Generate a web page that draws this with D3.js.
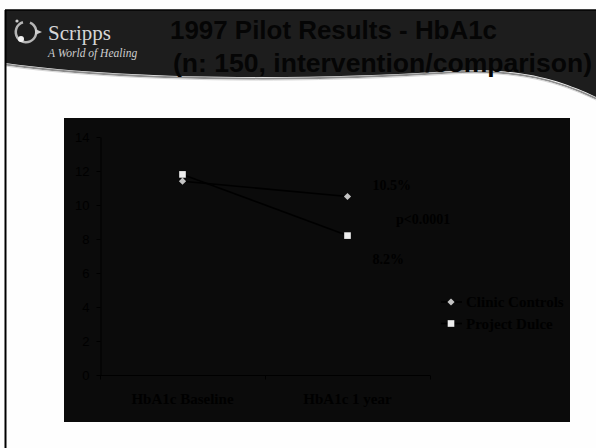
<!DOCTYPE html>
<html>
<head>
<meta charset="utf-8">
<script src="https://cdn.jsdelivr.net/npm/d3@7"></script>
<style>
  html, body { margin: 0; padding: 0; background: #ffffff; }
  svg { display: block; }
</style>
</head>
<body>
<svg id="slide" width="596" height="448"></svg>
<script>
// HbA1c values at baseline and after one year
const categories = ["HbA1c Baseline", "HbA1c 1 year"];
const clinicControls = [11.4, 10.5];
const projectDulce = [11.8, 8.2];
const seriesNames = ["Clinic Controls", "Project Dulce"];
const yTicks = [0, 2, 4, 6, 8, 10, 12, 14];
const titleLines = ["1997 Pilot Results - HbA1c", "(n: 150, intervention/comparison)"];
const pValueText = "p<0.0001";

const svg = d3.select("#slide");

// ---- slide frame and dark header band with curved lower edge ----
svg.append("rect").attr("x", 0).attr("y", 0).attr("width", 596).attr("height", 448).attr("fill", "#fefefe");

const curve = "M5,63 C120,79 300,81 450,71 C520,67 560,80 596,97";
svg.append("path")
  .attr("d", "M5,10 L596,10 L596,97 C560,80 520,67 450,71 C300,81 120,79 5,63 Z")
  .attr("fill", "#1d1d1d");
svg.append("path").attr("d", curve).attr("fill", "none")
  .attr("stroke", "#8c8c8c").attr("stroke-width", 2).attr("transform", "translate(0,1.5)");
svg.append("path").attr("d", curve).attr("fill", "none")
  .attr("stroke", "#d8d8d8").attr("stroke-width", 1).attr("transform", "translate(0,3)");

svg.append("line").attr("x1", 5).attr("x2", 596).attr("y1", 10).attr("y2", 10)
  .attr("stroke", "#000").attr("stroke-width", 1.5);
svg.append("line").attr("x1", 5.5).attr("x2", 5.5).attr("y1", 10).attr("y2", 448)
  .attr("stroke", "#000").attr("stroke-width", 2);

// logo mark
const logo = svg.append("g").attr("transform", "translate(26,32)");
logo.append("path")
  .attr("d", d3.arc()({innerRadius: 9, outerRadius: 11.5, startAngle: 0.4, endAngle: 2 * Math.PI - 0.3}))
  .attr("fill", "#b5b5b5");
logo.append("path").attr("d", "M9,-3 L16,0 L9,3 Z").attr("fill", "#cfcfcf");
logo.append("circle").attr("cx", -5).attr("cy", 7).attr("r", 3).attr("fill", "#f2f2f2");
logo.append("circle").attr("cx", -9).attr("cy", -11).attr("r", 1.6).attr("fill", "#cfcfcf");

svg.append("text").attr("x", 48).attr("y", 40)
  .attr("font-family", "Liberation Serif, Times New Roman, serif")
  .attr("font-size", 21).attr("fill", "#d6d6d6").text("Scripps");
svg.append("text").attr("x", 48).attr("y", 57)
  .attr("font-family", "Liberation Serif, Times New Roman, serif")
  .attr("font-style", "italic").attr("font-size", 11.5).attr("fill", "#cfcfcf").text("A World of Healing");

svg.append("text").attr("x", 170).attr("y", 39)
  .attr("font-family", "Liberation Sans, Arial, sans-serif").attr("font-weight", "bold")
  .attr("font-size", 26).attr("fill", "#050505")
  .attr("textLength", 327).attr("lengthAdjust", "spacingAndGlyphs").text(titleLines[0]);
svg.append("text").attr("x", 173).attr("y", 72)
  .attr("font-family", "Liberation Sans, Arial, sans-serif").attr("font-weight", "bold")
  .attr("font-size", 26).attr("fill", "#050505")
  .attr("textLength", 419).attr("lengthAdjust", "spacingAndGlyphs").text(titleLines[1]);

// ---- chart panel ----
svg.append("rect").attr("x", 64).attr("y", 118).attr("width", 506).attr("height", 304).attr("fill", "#0b0b0b");

const x = d3.scaleBand().domain(categories).range([100, 430]).paddingInner(0).paddingOuter(0);
const y = d3.scaleLinear().domain([0, 14]).range([375, 137]);
const cx = c => x(c) + x.bandwidth() / 2;

// y axis
const yAxis = svg.append("g").attr("transform", "translate(100.5,0)")
  .call(d3.axisLeft(y).tickValues(yTicks).tickSize(4).tickSizeOuter(0).tickPadding(7));
yAxis.selectAll("path, line").attr("stroke", "#000").attr("stroke-width", 1);
yAxis.selectAll("text").attr("fill", "#000")
  .attr("font-family", "Liberation Sans, Arial, sans-serif").attr("font-size", 13);

// x axis: boundary ticks between categories, labels centred on each category
const xAxis = svg.append("g").attr("transform", "translate(0,375.5)");
xAxis.append("line").attr("x1", x.range()[0]).attr("x2", x.range()[1])
  .attr("stroke", "#000").attr("stroke-width", 1);
const edges = categories.map(c => x(c)).concat([x.range()[1]]);
xAxis.selectAll("line.edge").data(edges).join("line").attr("class", "edge")
  .attr("x1", d => d + 0.5).attr("x2", d => d + 0.5).attr("y1", 0).attr("y2", 4)
  .attr("stroke", "#000");
xAxis.selectAll("text").data(categories).join("text")
  .attr("x", d => cx(d)).attr("y", 28).attr("text-anchor", "middle")
  .attr("font-family", "Liberation Serif, Times New Roman, serif").attr("font-weight", "bold")
  .attr("font-size", 15).attr("fill", "#000").text(d => d);

// series lines and markers (diamond = square turned 45 degrees)
const series = [
  {name: seriesNames[0], values: clinicControls, symbol: d3.symbolSquare, size: 26, rotate: 45, color: "#c4c4c4"},
  {name: seriesNames[1], values: projectDulce, symbol: d3.symbolSquare, size: 44, rotate: 0, color: "#eeeeee"}
];
const line = d3.line().x((d, i) => cx(categories[i])).y(d => y(d));

series.forEach(s => {
  svg.append("path").datum(s.values).attr("d", line)
    .attr("fill", "none").attr("stroke", "#000").attr("stroke-width", 1.6);
});
series.forEach(s => {
  svg.selectAll(null).data(s.values).join("path")
    .attr("transform", (d, i) => `translate(${cx(categories[i])},${y(d)}) rotate(${s.rotate})`)
    .attr("d", d3.symbol(s.symbol, s.size)).attr("fill", s.color);
});

// value labels at one year and significance note
const labelFont = "Liberation Serif, Times New Roman, serif";
const yr = categories[1];
svg.append("text").attr("x", cx(yr) + 25).attr("y", y(clinicControls[1]) - 7)
  .attr("font-family", labelFont).attr("font-weight", "bold").attr("font-size", 14).attr("fill", "#000")
  .text(clinicControls[1] + "%");
svg.append("text").attr("x", cx(yr) + 25).attr("y", y(projectDulce[1]) + 28)
  .attr("font-family", labelFont).attr("font-weight", "bold").attr("font-size", 14).attr("fill", "#000")
  .text(projectDulce[1] + "%");
svg.append("text").attr("x", 396).attr("y", 224)
  .attr("font-family", labelFont).attr("font-weight", "bold").attr("font-size", 14).attr("fill", "#000")
  .text(pValueText);

// legend
const legend = svg.append("g").attr("transform", "translate(451,302)");
series.forEach((s, i) => {
  const g = legend.append("g").attr("transform", `translate(0,${i * 21.5})`);
  g.append("line").attr("x1", -10).attr("x2", 11).attr("stroke", "#000").attr("stroke-width", 1.6);
  g.append("path").attr("d", d3.symbol(s.symbol, s.size)).attr("transform", `rotate(${s.rotate})`).attr("fill", s.color);
  g.append("text").attr("x", 15).attr("y", 5)
    .attr("font-family", labelFont).attr("font-weight", "bold").attr("font-size", 15).attr("fill", "#000")
    .text(s.name);
});
</script>
</body>
</html>
